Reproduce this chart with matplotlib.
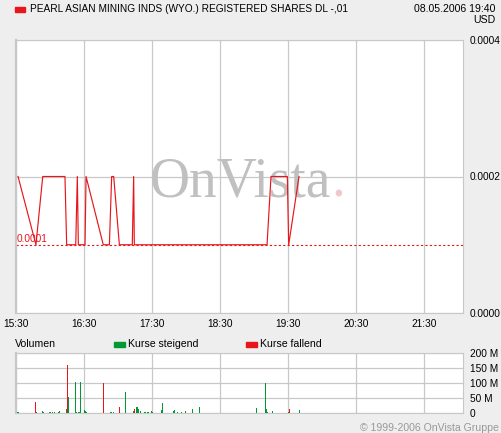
import matplotlib.pyplot as plt
from matplotlib.patches import Rectangle

plt.rcParams['font.family'] = ['Liberation Sans', 'DejaVu Sans']

W, H = 501, 433
RED = '#e8161b'
GREEN = '#009933'
GRID = '#c8c8c8'
BG = '#eeeeee'

# time axis: minutes after 15:30
hour_ticks = [0, 60, 120, 180, 240, 300, 360]
hour_labels = ['15:30', '16:30', '17:30', '18:30', '19:30', '20:30', '21:30']

# price trace (minutes, USD)
price_minutes = [1.8, 17.6, 23.6, 43.2, 44.7, 52.7, 54.1, 55.0, 60.9, 61.8,
                 77.0, 82.4, 84.4, 86.2, 91.2, 102.6, 103.8, 104.4,
                 221.5, 225.0, 239.4, 240.6, 249.7]
price_values = [0.0002, 0.0001, 0.0002, 0.0002, 0.0001, 0.0001, 0.0002, 0.0001, 0.0001, 0.0002,
                0.0001, 0.0001, 0.0002, 0.0002, 0.0001, 0.0001, 0.0002, 0.0001,
                0.0001, 0.0002, 0.0002, 0.0001, 0.0002]
prev_close = 0.0001

# volume (minutes, millions, 'r' = falling / 'g' = rising)
vol_minutes = [1.8, 17.0, 17.9, 23.2, 24.1, 29.4, 30.3, 32.0, 33.8, 37.3, 38.2,
               44.4, 45.3, 46.1, 52.3, 53.2, 55.0, 55.9, 56.7, 60.3, 61.1, 62.0,
               77.0, 83.2, 84.1, 85.9, 91.1, 96.4, 103.5, 104.7, 106.1, 107.0,
               107.9, 109.7, 113.2, 114.1, 115.9, 116.7, 119.4, 120.3, 128.2,
               129.1, 138.8, 139.7, 142.3, 145.9, 149.4, 155.6, 161.7,
               212.0, 220.0, 220.8, 221.7, 226.1, 240.3, 241.1, 250.0]
vol_millions = [4, 38, 4, 7, 4, 4, 4, 4, 4, 4, 7,
                13, 161, 54, 104, 4, 4, 4, 104, 11, 7, 4,
                101, 4, 4, 4, 21, 71, 7, 15, 21, 21,
                14, 7, 4, 4, 4, 4, 7, 4, 11,
                34, 7, 11, 4, 4, 7, 14, 21,
                18, 101, 14, 4, 7, 4, 14, 11]
vol_dir = ['g', 'r', 'g', 'g', 'g', 'g', 'g', 'g', 'g', 'g', 'g',
           'g', 'r', 'g', 'g', 'g', 'g', 'g', 'g', 'g', 'g', 'g',
           'r', 'g', 'g', 'g', 'r', 'g', 'g', 'r', 'g', 'g',
           'g', 'g', 'g', 'g', 'g', 'g', 'g', 'g', 'g',
           'g', 'g', 'g', 'g', 'g', 'g', 'g', 'g',
           'g', 'g', 'g', 'g', 'g', 'g', 'r', 'g']
vol_ticks = [0, 50, 100, 150, 200]
vol_labels = ['0', '50 M', '100 M', '150 M', '200 M']

XMAX = 394.4


def box(x0, y0, x1, y1):
    # pixel box -> figure fraction rect
    return [x0 / W, 1 - y1 / H, (x1 - x0) / W, (y1 - y0) / H]


def fx(x):
    return x / W


def fy(y):
    return 1 - y / H


fig = plt.figure(figsize=(W / 100, H / 100), dpi=100, facecolor=BG)


def style_axes(ax):
    ax.set_facecolor('white')
    for s in ax.spines.values():
        s.set_color(GRID)
        s.set_linewidth(0.8)
    ax.spines['left'].set_linewidth(1.6)
    ax.yaxis.tick_right()
    ax.tick_params(length=0, labelsize=7.3, colors='black')
    ax.tick_params(axis='y', pad=5)
    ax.grid(True, color=GRID, lw=0.9)
    ax.set_axisbelow(True)
    ax.set_xlim(0, XMAX)
    ax.set_xticks(hour_ticks)


# ---- price panel
ax = fig.add_axes(box(16, 40, 463, 313))
style_axes(ax)
ax.set_ylim(0, 0.0004)
ax.set_yticks([0, 0.0002, 0.0004])
ax.set_yticklabels(['0.0000', '0.0002', '0.0004'])
ax.set_xticklabels(hour_labels)
ax.tick_params(axis='x', pad=4)
ax.axhline(prev_close, color=RED, lw=0.8, linestyle=(0, (2, 2)), zorder=2)
ax.text(0.8, prev_close + 0.0000015, '0.0001', color=RED, fontsize=7.3,
        ha='left', va='bottom', zorder=3)
ax.plot(price_minutes, price_values, color=RED, lw=0.85, zorder=4)

# watermark
ax.text((150 - 16) / 447 * XMAX, 0.0002 - 0.000029, 'OnVista', family='Liberation Serif',
        fontsize=40, color='#c0c0c0', ha='left', va='baseline', zorder=1)
ax.text((331 - 16) / 447 * XMAX, 0.0002 - 0.000029, '.', family='Liberation Serif',
        fontsize=40, color='#f0c8cc', ha='left', va='baseline', zorder=1)

# ---- volume panel
vax = fig.add_axes(box(16, 353, 463, 413))
style_axes(vax)
vax.set_ylim(0, 200)
vax.set_yticks(vol_ticks)
vax.set_yticklabels(vol_labels)
vax.set_xticklabels([])
vax.bar(vol_minutes, vol_millions, width=1.0,
        color=[RED if d == 'r' else GREEN for d in vol_dir], zorder=3)

# ---- header and legend texts
fig.add_artist(Rectangle((fx(15), fy(12)), 10 / W, 5 / H, color=RED,
                         transform=fig.transFigure))
fig.text(fx(30), fy(9), 'PEARL ASIAN MINING INDS (WYO.) REGISTERED SHARES DL -,01',
         fontsize=7.3, va='center', ha='left')
fig.text(fx(495), fy(9), '08.05.2006 19:40', fontsize=7.6, va='center', ha='right')
fig.text(fx(495), fy(20), 'USD', fontsize=7.6, va='center', ha='right')

fig.text(fx(15), fy(344), 'Volumen', fontsize=7.6, va='center', ha='left')
fig.add_artist(Rectangle((fx(114), fy(347)), 11 / W, 5 / H, color=GREEN,
                         transform=fig.transFigure))
fig.text(fx(128), fy(344), 'Kurse steigend', fontsize=7.6, va='center', ha='left')
fig.add_artist(Rectangle((fx(246), fy(347)), 11 / W, 5 / H, color=RED,
                         transform=fig.transFigure))
fig.text(fx(260), fy(344), 'Kurse fallend', fontsize=7.6, va='center', ha='left')

fig.text(fx(499), fy(428), '\u00a9 1999-2006 OnVista Gruppe', fontsize=7.6,
         color='#999999', va='center', ha='right')

fig.savefig('out.png', dpi=100, facecolor=BG)
